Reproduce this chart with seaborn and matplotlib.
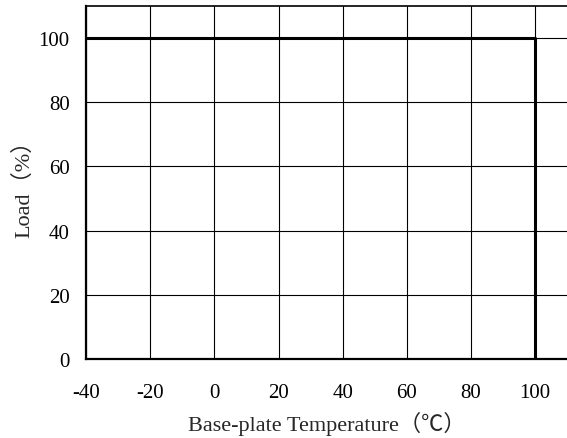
import numpy as np
import pandas as pd
import matplotlib
matplotlib.use("Agg")
import matplotlib.pyplot as plt
import seaborn as sns

# derating curve
temperature = [-40, 100, 100]
load = [100, 100, 0]
x_ticks = [-40, -20, 0, 20, 40, 60, 80, 100]
x_tick_labels = ["-40", "-20", "0", "20", "40", "60", "80", "100"]
y_ticks = [0, 20, 40, 60, 80, 100]
y_tick_labels = ["0", "20", "40", "60", "80", "100"]

sns.set_style("white")
fonts = ["Liberation Serif", "Noto Sans CJK SC", "DejaVu Sans"]
plt.rcParams["font.family"] = fonts

fig = plt.figure(figsize=(5.67, 4.39), dpi=100)
ax = fig.add_axes([0.152, 0.18, 0.848, 0.804])

df = pd.DataFrame({"temp": temperature, "load": load})
sns.lineplot(data=df, x="temp", y="load", sort=False, ax=ax,
             color="black", linewidth=2.2, estimator=None)

ax.set_xlim(-40, 110)
ax.set_ylim(0, 110)
ax.set_xticks(x_ticks)
ax.set_xticklabels(x_tick_labels)
ax.set_yticks(y_ticks)
ax.set_yticklabels(y_tick_labels)
ax.tick_params(axis="both", length=0, labelsize=15, colors="black")
ax.tick_params(axis="x", pad=17)
ax.tick_params(axis="y", pad=12)
ax.grid(True, color="black", linewidth=0.8)
ax.set_axisbelow(True)

for side in ["left", "bottom"]:
    ax.spines[side].set_linewidth(1.6)
    ax.spines[side].set_color("black")
ax.spines["top"].set_linewidth(1.2)
ax.spines["top"].set_color("black")
ax.spines["right"].set_visible(False)

ax.set_xlabel("Base-plate Temperature（℃）", fontsize=16, labelpad=7)
ax.set_ylabel("Load（%）", fontsize=16, labelpad=3)

fig.savefig("out.png", dpi=100)
